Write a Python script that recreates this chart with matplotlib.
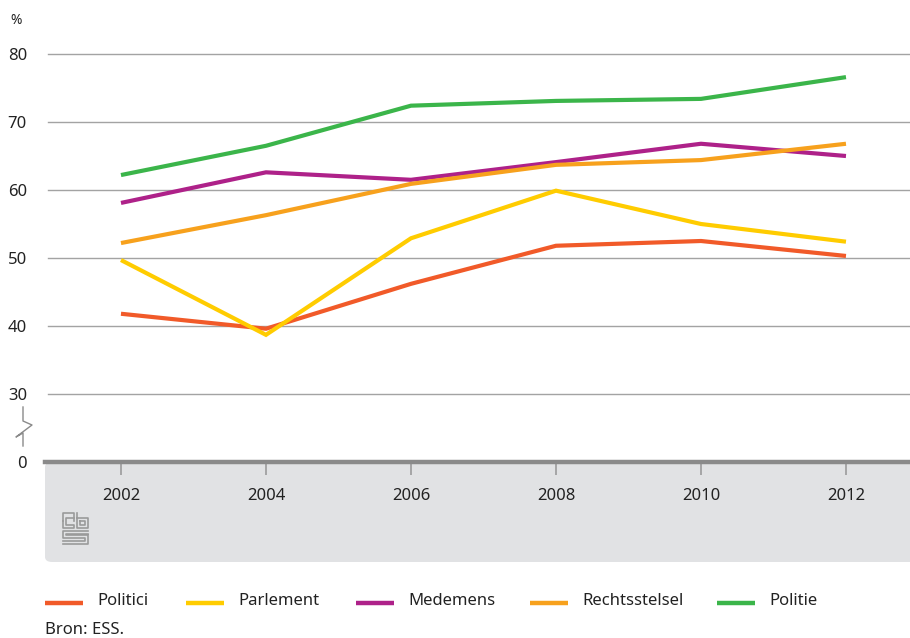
import numpy as np
import matplotlib.pyplot as plt
from matplotlib.patches import FancyBboxPatch
from matplotlib.lines import Line2D

plt.rcParams['font.family'] = ['Noto Sans', 'DejaVu Sans']

"""Data read from the chart (percentages)."""
years = [2002, 2004, 2006, 2008, 2010, 2012]
politici = [41.8, 39.6, 46.2, 51.8, 52.5, 50.3]
parlement = [49.7, 38.7, 52.9, 59.9, 55.0, 52.4]
medemens = [58.1, 62.6, 61.5, 64.1, 66.8, 65.0]
rechtsstelsel = [52.2, 56.3, 60.9, 63.7, 64.4, 66.8]
politie = [62.2, 66.5, 72.4, 73.1, 73.4, 76.6]

names = ['Politici', 'Parlement', 'Medemens', 'Rechtsstelsel', 'Politie']
colors = ['#f15a29', '#ffcc00', '#ae2189', '#f7a11d', '#3bb54a']
series = [politici, parlement, medemens, rechtsstelsel, politie]

yticks = [20, 30, 40, 50, 60, 70, 80]
ylabels = ['0', '30', '40', '50', '60', '70', '80']

W, H = 910, 638
fig = plt.figure(figsize=(W / 100, H / 100), dpi=100)

def fx(px):
    return px / W

def fy(py):
    return 1 - py / H

"""Grey band under the axis with rounded lower-left corner."""
band = FancyBboxPatch((fx(45), fy(562)), fx(910 - 45) + 0.02, (562 - 462) / H,
                      boxstyle='round,pad=0,rounding_size=0.008',
                      transform=fig.transFigure, facecolor='#e1e2e4',
                      edgecolor='none', zorder=-5)
fig.patches.append(band)

ax = fig.add_axes([fx(45), fy(462), fx(910 - 45), (462 - 39.4) / H])
ax.set_zorder(2)
ax.set_xlim(2000.952, 2000.952 + (910 - 45) / 72.5)
ax.set_ylim(20, 20 + (462 - 39.4) / 6.8)
ax.patch.set_alpha(0)
for s in ax.spines.values():
    s.set_visible(False)

"""Gridlines."""
for v in yticks[1:]:
    ax.plot([2000.995, 2020], [v, v], color='#a3a3a3', lw=1.0, zorder=1)

"""Thick base line."""
ax.axhline(20, color='#8a8a8a', lw=3.2, zorder=3, clip_on=False)

for name, col, vals in zip(names, colors, series):
    ax.plot(years, vals, color=col, lw=3.0, solid_capstyle='butt',
            solid_joinstyle='miter', zorder=4, label=name)

ax.set_yticks(yticks)
ax.set_yticklabels(ylabels)
ax.set_xticks(years)
ax.set_xticklabels([str(y) for y in years])
ax.tick_params(axis='y', length=0, pad=13, labelsize=12, labelcolor='#222222')
ax.tick_params(axis='x', length=9, width=1.2, color='#9b9b9b', pad=10,
               labelsize=12, labelcolor='#222222', direction='out')

fig.text(fx(10), fy(20), '%', fontsize=10, color='#222222', va='center')

"""Axis break symbol."""
bx = [23, 23, 32, 16, 23, 23]
by = [407, 421, 425, 437, 433, 446]
fig.add_artist(Line2D([fx(x) for x in bx], [fy(y) for y in by],
                      transform=fig.transFigure, color='#8a8a8a', lw=1))

"""Simple cbs logo."""
lc = '#9a9a9a'
logo = [
    ([63, 63, 74, 74], [521, 513, 513, 521]),
    ([63, 63, 74, 74, 66, 66, 74], [521, 528, 528, 525, 525, 518, 518]),
    ([77, 77, 88, 88, 77], [513, 528, 528, 518, 518]),
    ([80, 80, 85, 85, 80], [521, 525, 525, 521, 521]),
    ([88, 63, 63, 85, 85, 63], [531, 531, 538, 538, 541, 541]),
    ([63, 88, 88, 66, 66, 88], [544, 544, 535, 535, 534, 534]),
]
for xs, ys in logo:
    fig.add_artist(Line2D([fx(x) for x in xs], [fy(y) for y in ys],
                          transform=fig.transFigure, color=lc, lw=1.2))

"""Legend drawn manually."""
line_x = [45, 186, 356, 530, 717]
for x0, name, col in zip(line_x, names, colors):
    fig.add_artist(Line2D([fx(x0), fx(x0 + 38)], [fy(603), fy(603)],
                          transform=fig.transFigure, color=col, lw=3.2,
                          solid_capstyle='butt'))
    fig.text(fx(x0 + 52), fy(601), name, fontsize=12, color='#222222',
             va='center')

fig.text(fx(45), fy(630), 'Bron: ESS.', fontsize=12, color='#222222',
         va='center')

fig.savefig('out.png', dpi=100)
